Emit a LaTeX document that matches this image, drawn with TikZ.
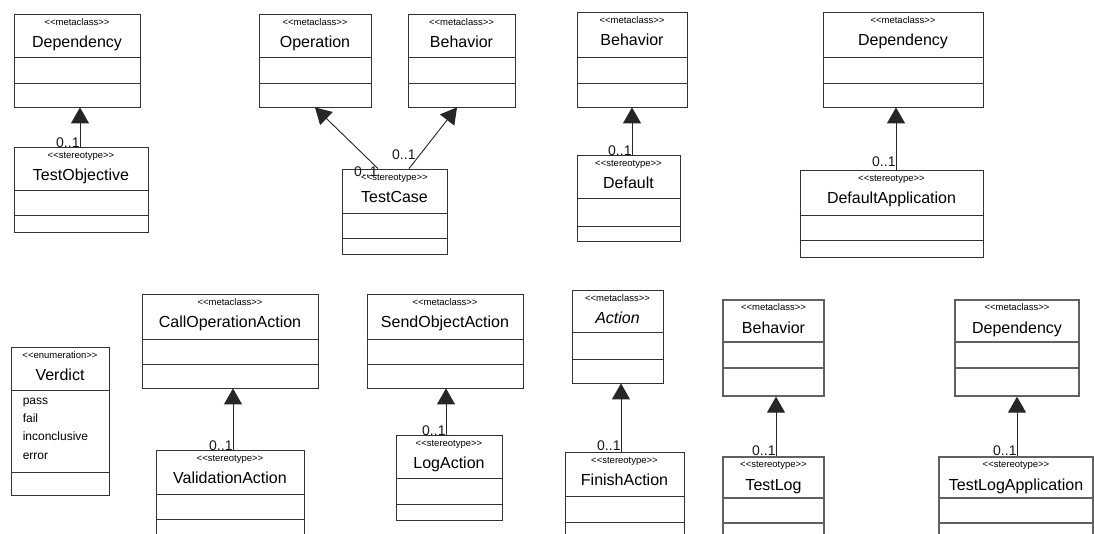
\documentclass[tikz,border=0pt]{standalone}
\usepackage{fontspec}
\setmainfont{Liberation Sans}
\usetikzlibrary{arrows.meta,calc,fit}

\tikzset{
  x=1pt, y=-1pt,
  cls/.style={draw=black!80, line width=0.8pt, inner sep=0pt},
  clsgray/.style={draw=black!62, line width=1.3pt},
  sepline/.style={draw=black!80, line width=0.8pt},
  stereo/.style={font=\fontsize{9.5}{10}\selectfont, inner sep=0pt, anchor=base},
  title/.style={font=\fontsize{16}{18}\selectfont, inner sep=0pt, anchor=base},
  items/.style={font=\fontsize{12}{18.3}\selectfont, inner sep=0pt, align=left},
  mult/.style={font=\fontsize{14}{15}\selectfont, inner sep=0pt, text=black!90},
  gen/.style={draw=black!85, line width=0.9pt, -{Triangle[length=16pt,width=18pt]}},
}

% [extra style]{name}{top-left corner}{bottom-right corner}{1st separator y}{2nd separator y}{stereotype}{class name}
\newcommand\umlclass[8][]{%
  \path (#3) coordinate (#2-nw) (#4) coordinate (#2-se);
  \node[cls, #1, fit=(#2-nw)(#2-se)] (#2) {};
  \draw[sepline, #1] (#2.west |- 0,#5) -- (#2.east |- 0,#5);
  \draw[sepline, #1] (#2.west |- 0,#6) -- (#2.east |- 0,#6);
  \node[stereo] (#2-st) at ($(#2.north)+(0,11.5)$) {{<}{<}#7{>}{>}};
  \node[title] (#2-t) at ($(#2.north)+(0,34)$) {#8};
}

\begin{document}
\begin{tikzpicture}
\clip (0,0) rectangle (1094,533);
\fill[white] (0,0) rectangle (1094,533);

% upper row
\umlclass{dep1}{14,14}{140,107}{57}{83}{metaclass}{Dependency}
\umlclass{tobj}{14,147}{148,232}{190}{215}{stereotype}{TestObjective}
\umlclass{oper}{259,14}{371,107}{57}{83}{metaclass}{Operation}
\umlclass{beh1}{408,14}{515,107}{57}{83}{metaclass}{Behavior}
\umlclass{tcase}{342,169}{447,254}{213}{238}{stereotype}{TestCase}
\umlclass{beh2}{577,12}{687,107}{57}{83}{metaclass}{Behavior}
\umlclass{deflt}{577,155}{680,241}{198}{226}{stereotype}{Default}
\umlclass{dep2}{823,12}{983,107}{57}{83}{metaclass}{Dependency}
\umlclass{defapp}{800,170}{983,257}{215}{240}{stereotype}{DefaultApplication}

% lower row
\umlclass{verdict}{11,347}{109,495}{390}{472}{enumeration}{Verdict}
\node[items, anchor=north west] (verdict-lit) at ($(verdict.north west)+(12,51)$)
  {pass\\fail\\inconclusive\\error};
\umlclass{callop}{142,294}{318,388}{339}{364}{metaclass}{CallOperationAction}
\umlclass{valid}{156,450}{304,545}{494}{519}{stereotype}{ValidationAction}
\umlclass{sendobj}{367,294}{523,388}{339}{364}{metaclass}{SendObjectAction}
\umlclass{logact}{396,435}{502,520}{478}{504}{stereotype}{LogAction}
\umlclass{action}{572,290}{663,383}{332}{359}{metaclass}{\itshape Action}
\umlclass{finish}{565,452}{684,545}{496}{522}{stereotype}{FinishAction}
\umlclass[clsgray]{beh3}{723,300}{824,396}{342}{368}{metaclass}{Behavior}
\umlclass[clsgray]{testlog}{723,457}{824,545}{498}{523}{stereotype}{TestLog}
\umlclass[clsgray]{dep3}{955,300}{1079,396}{342}{368}{metaclass}{Dependency}
\umlclass[clsgray]{tla}{939,457}{1093,545}{498}{523}{stereotype}{TestLogApplication}

% extension arrows (stereotype -> metaclass)
\coordinate (tobj-a) at ([xshift=-1pt]tobj.north);
\draw[gen] (tobj-a) node[mult, anchor=base east, yshift=-1pt] {0..1} -- (tobj-a |- dep1.south);

\coordinate (tcase-a) at ([xshift=-16.5pt]tcase.north);
\coordinate (tcase-b) at ([xshift=14.5pt]tcase.north);
\coordinate (beh1-a) at ([xshift=-4.5pt]beh1.south);
\draw[gen] (tcase-a) node[mult, anchor=base east, yshift=-8pt] {0..1} -- (oper.south);
\draw[gen] (tcase-b) node[mult, anchor=base east, xshift=7pt, yshift=9pt] {0..1} -- (beh1-a);

\coordinate (deflt-a) at ([xshift=3.5pt]deflt.north);
\draw[gen] (deflt-a) node[mult, anchor=base east, yshift=-1pt] {0..1} -- (deflt-a |- beh2.south);

\coordinate (defapp-a) at ([xshift=4.5pt]defapp.north);
\draw[gen] (defapp-a) node[mult, anchor=base east, yshift=3pt] {0..1} -- (defapp-a |- dep2.south);

\coordinate (valid-a) at ([xshift=3pt]valid.north);
\draw[gen] (valid-a) node[mult, anchor=base east, yshift=-1pt] {0..1} -- (valid-a |- callop.south);

\coordinate (logact-a) at ([xshift=-3pt]logact.north);
\draw[gen] (logact-a) node[mult, anchor=base east, yshift=-1pt] {0..1} -- (logact-a |- sendobj.south);

\coordinate (finish-a) at ([xshift=-3.5pt]finish.north);
\draw[gen] (finish-a) node[mult, anchor=base east, yshift=1pt] {0..1} -- (finish-a |- action.south);

\coordinate (testlog-a) at ([xshift=2.5pt]testlog.north);
\draw[gen] (testlog-a) node[mult, anchor=base east, yshift=1pt] {0..1} -- (testlog-a |- beh3.south);

\coordinate (tla-a) at ([xshift=1pt]tla.north);
\draw[gen] (tla-a) node[mult, anchor=base east, yshift=1pt] {0..1} -- (tla-a |- dep3.south);
\end{tikzpicture}
\end{document}
